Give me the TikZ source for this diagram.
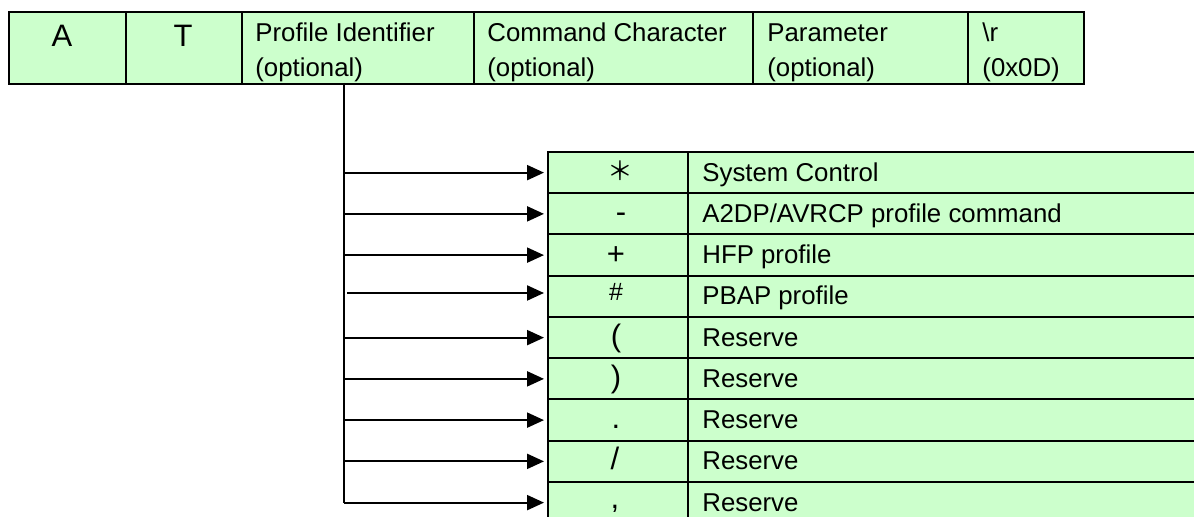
\documentclass[tikz,border=0pt]{standalone}
\usepackage{fontspec}
\setmainfont{Liberation Sans}
\newfontfamily\cjkfont{Noto Sans CJK SC}
\usetikzlibrary{arrows.meta}
\definecolor{cellgreen}{RGB}{204,255,204}
\newcommand\mainsz{\fontsize{12.9pt}{15pt}\selectfont}
\newcommand\bigsz{\fontsize{15.5pt}{18pt}\selectfont}
\newcommand\symsz{\fontsize{15.5pt}{18pt}\selectfont}
\newcommand\hashsz{\fontsize{12.5pt}{14pt}\selectfont}
\begin{document}
\begin{tikzpicture}[x=0.5pt,y=-0.5pt,
  cell/.style={draw=black, line width=1pt, fill=cellgreen, rectangle, inner sep=0pt, anchor=north west, minimum height=36pt},
  rowcell/.style={draw=black, line width=1pt, fill=cellgreen, rectangle, inner sep=0pt, anchor=north west, minimum height=20.625pt},
  txt/.style={inner sep=0pt, anchor=base west, font=\mainsz},
  sym/.style={inner sep=0pt, anchor=base, font=\symsz},
  bigtxt/.style={inner sep=0pt, anchor=base, font=\bigsz},
  trunkline/.style={line width=1.1pt},
  conn/.style={line width=1.1pt, -{Triangle[length=8.5pt,width=7.5pt]}, shorten >=1.5pt},
]
\useasboundingbox (0,0) rectangle (1194,517);
\clip (0,0) rectangle (1194,517);
\fill[white] (0,0) rectangle (1194,517);

% top table
\node[cell, minimum width=58.5pt] (cA) at (8,11) {};
\node[cell, minimum width=58pt] (cT) at (125,11) {};
\node[cell, minimum width=116pt] (cP) at (241,11) {};
\node[cell, minimum width=139.5pt] (cC) at (473,11) {};
\node[cell, minimum width=107.5pt] (cPa) at (752,11) {};
\node[cell, minimum width=58pt] (cR) at (967,11) {};

\node[bigtxt] (tA) at (62,47) {A};
\node[bigtxt] (tT) at (183,47) {T};
\node[txt] (tP1) at (255,41.5) {Profile Identifier};
\node[txt] (tP2) at (255,77) {(optional)};
\node[txt] (tC1) at (487,41.5) {Command Character};
\node[txt] (tC2) at (487,77) {(optional)};
\node[txt] (tPa1) at (767,41.5) {Parameter};
\node[txt] (tPa2) at (767,77) {(optional)};
\node[txt] (tR1) at (982,41.5) {\textbackslash r};
\node[txt] (tR2) at (982,77) {(0x0D)};

% bottom table
\node[rowcell, minimum width=70pt] (s1) at (547,151) {};
\node[rowcell, minimum width=70pt] (s2) at (547,192.25) {};
\node[rowcell, minimum width=70pt] (s3) at (547,233.5) {};
\node[rowcell, minimum width=70pt] (s4) at (547,274.75) {};
\node[rowcell, minimum width=70pt] (s5) at (547,316) {};
\node[rowcell, minimum width=70pt] (s6) at (547,357.25) {};
\node[rowcell, minimum width=70pt] (s7) at (547,398.5) {};
\node[rowcell, minimum width=70pt] (s8) at (547,439.75) {};
\node[rowcell, minimum width=70pt] (s9) at (547,481) {};
\node[rowcell, minimum width=260pt] (d1) at (687,151) {};
\node[rowcell, minimum width=260pt] (d2) at (687,192.25) {};
\node[rowcell, minimum width=260pt] (d3) at (687,233.5) {};
\node[rowcell, minimum width=260pt] (d4) at (687,274.75) {};
\node[rowcell, minimum width=260pt] (d5) at (687,316) {};
\node[rowcell, minimum width=260pt] (d6) at (687,357.25) {};
\node[rowcell, minimum width=260pt] (d7) at (687,398.5) {};
\node[rowcell, minimum width=260pt] (d8) at (687,439.75) {};
\node[rowcell, minimum width=260pt] (d9) at (687,481) {};

\node[sym, font=\mainsz\cjkfont] (y1) at (620,181) {＊};
\node[sym] (y2) at (621,222.4) {-};
\node[sym] (y3) at (616,265) {+};
\node[sym, font=\hashsz] (y4) at (616,301) {\#};
\node[sym] (y5) at (616,346.1) {(};
\node[sym] (y6) at (616,387.4) {)};
\node[sym] (y7) at (616,428.6) {.};
\node[sym] (y8) at (615,469.9) {/};
\node[sym] (y9) at (615,509) {,};

\node[txt] (x1) at (702,181.1) {System Control};
\node[txt] (x2) at (702,222.4) {A2DP/AVRCP profile command};
\node[txt] (x3) at (702,263.6) {HFP profile};
\node[txt] (x4) at (702,304.9) {PBAP profile};
\node[txt] (x5) at (702,346.1) {Reserve};
\node[txt] (x6) at (702,387.4) {Reserve};
\node[txt] (x7) at (702,428.6) {Reserve};
\node[txt] (x8) at (702,469.9) {Reserve};
\node[txt] (x9) at (702,511.1) {Reserve};

% connectors
\coordinate (t0) at (344,83);
\coordinate (p4) at (347,293);
\draw[trunkline] (t0) -- (t0 |- s9.west);
\draw[conn] (t0 |- s1.west) -- (s1.west);
\draw[conn] (t0 |- s2.west) -- (s2.west);
\draw[conn] (t0 |- s3.west) -- (s3.west);
\draw[conn] (p4) -- (p4 -| s4.west);
\draw[conn] (t0 |- s5.west) -- (s5.west);
\draw[conn] (t0 |- s6.west) -- (s6.west);
\draw[conn] (t0 |- s7.west) -- (s7.west);
\draw[conn] (t0 |- s8.west) -- (s8.west);
\draw[conn] (t0 |- s9.west) -- (s9.west);
\end{tikzpicture}
\end{document}
